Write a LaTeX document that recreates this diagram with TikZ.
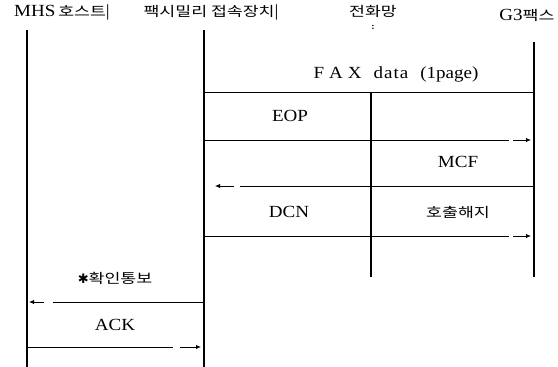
\documentclass[tikz,border=0pt]{standalone}
\usepackage{fontspec}
\setmainfont[FakeStretch=1.12]{Liberation Serif}
\newfontfamily\kr[FakeStretch=1.28]{Noto Sans CJK KR}
\newcommand\krt[1]{{\kr\fontsize{13.5}{15}\selectfont #1}}
\usetikzlibrary{arrows.meta}

\begin{document}
\begin{tikzpicture}[x=1pt, y=-1pt,
	every node/.style={inner sep=1pt, font=\fontsize{17}{19}\selectfont},
	life/.style={line width=1.1pt},
	msg/.style={line width=0.9pt},
	tip/.style={line width=0.9pt, -{Latex[length=5pt,width=4.5pt]}}]

	\useasboundingbox (0,0) rectangle (558,367);

	% headers
	\node (host) at (62,12) {MHS\,\krt{호스트}|};
	\node (fad) at (211,12) {\krt{팩시밀리 접속장치}|};
	\node (net) at (373,11) {\krt{전화망}};
	\node[font=\fontsize{9}{9}\selectfont, inner sep=0pt] (dots) at (373,27) {\textbf{:}};
	\node (g3) at (527,15) {G3\krt{팩스}};

	% lifelines
	\coordinate (hostT) at (27,30);  \coordinate (hostB) at (27,367);
	\coordinate (fadT) at (204,30);  \coordinate (fadB) at (204,367);
	\coordinate (netT) at (371,92);  \coordinate (netB) at (371,277);
	\coordinate (g3T) at (534,42);   \coordinate (g3B) at (534,277);
	\draw[life] (hostT) -- (hostB);
	\draw[life] (fadT) -- (fadB);
	\draw[life] (netT) -- (netB);
	\draw[life] (g3T) -- (g3B);

	% FAX data
	\node (fax) at (396,74) {F\hspace{5pt}A\hspace{5pt}X\hspace{12pt}d\hspace{1pt}a\hspace{1pt}t\hspace{1pt}a\hspace{12pt}(1page)};
	\coordinate (faxS) at (204,92); \coordinate (faxE) at (534,92);
	\draw[msg] (faxS) -- (faxE);

	% EOP
	\node (eop) at (290,116) {EOP};
	\coordinate (eopS) at (204,140); \coordinate (eopG) at (509,140);
	\coordinate (eopT) at (513,140); \coordinate (eopE) at (531,140);
	\draw[msg] (eopS) -- (eopG);
	\draw[tip] (eopT) -- (eopE);

	% MCF
	\node (mcf) at (458,162) {MCF};
	\coordinate (mcfS) at (534,186); \coordinate (mcfG) at (240,186);
	\coordinate (mcfT) at (234,186); \coordinate (mcfE) at (215,186);
	\draw[msg] (mcfS) -- (mcfG);
	\draw[tip] (mcfT) -- (mcfE);

	% DCN
	\node (dcn) at (289,212) {DCN};
	\node (rel) at (458,212) {\krt{호출해지}};
	\coordinate (dcnS) at (204,236); \coordinate (dcnG) at (509,236);
	\coordinate (dcnT) at (513,236); \coordinate (dcnE) at (531,236);
	\draw[msg] (dcnS) -- (dcnG);
	\draw[tip] (dcnT) -- (dcnE);

	% confirm
	\node (conf) at (115,278) {{\fontspec{DejaVu Sans}\fontsize{13}{15}\selectfont ✱}\krt{확인통보}};
	\coordinate (confS) at (204,302); \coordinate (confG) at (53,302);
	\coordinate (confT) at (44,302);  \coordinate (confE) at (29,302);
	\draw[msg] (confS) -- (confG);
	\draw[tip] (confT) -- (confE);

	% ACK
	\node (ack) at (115,325) {ACK};
	\coordinate (ackS) at (27,347); \coordinate (ackG) at (173,347);
	\coordinate (ackT) at (180,347); \coordinate (ackE) at (201,347);
	\draw[msg] (ackS) -- (ackG);
	\draw[tip] (ackT) -- (ackE);
\end{tikzpicture}
\end{document}
